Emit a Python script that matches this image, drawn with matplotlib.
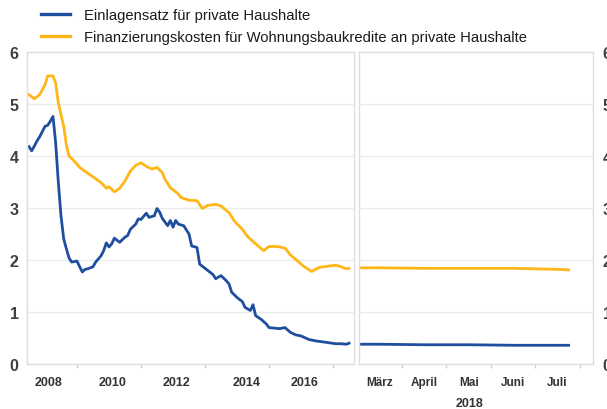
import matplotlib
matplotlib.use("Agg")
import matplotlib.pyplot as plt
from matplotlib.lines import Line2D

# ---------------- data ----------------
blue_label = "Einlagensatz für private Haushalte"
orange_label = "Finanzierungskosten für Wohnungsbaukredite an private Haushalte"

orange_months = ["2008-01", "2008-03", "2008-05", "2008-07", "2008-08", "2008-10", "2008-11", "2008-12",
                 "2009-02", "2009-03", "2009-04", "2009-06", "2009-08", "2009-11",
                 "2010-01", "2010-04", "2010-06", "2010-07", "2010-09", "2010-11",
                 "2011-01", "2011-03", "2011-05", "2011-07", "2011-09", "2011-11",
                 "2012-01", "2012-03", "2012-04", "2012-06", "2012-09", "2012-10",
                 "2013-01", "2013-04", "2013-06", "2013-08", "2013-11",
                 "2014-01", "2014-04", "2014-06", "2014-09", "2014-11",
                 "2015-02", "2015-05", "2015-07", "2015-10",
                 "2016-01", "2016-03", "2016-06", "2016-08", "2016-11",
                 "2017-02", "2017-05", "2017-08", "2017-10", "2017-12", "2018-01"]
orange_values = [5.18, 5.10, 5.18, 5.37, 5.54, 5.54, 5.40, 5.02,
                 4.57, 4.22, 4.00, 3.90, 3.78, 3.67,
                 3.60, 3.49, 3.38, 3.41, 3.31, 3.38,
                 3.52, 3.71, 3.82, 3.87, 3.80, 3.75,
                 3.78, 3.68, 3.55, 3.39, 3.27, 3.20,
                 3.15, 3.14, 2.99, 3.05, 3.07,
                 3.04, 2.91, 2.75, 2.59, 2.45,
                 2.31, 2.18, 2.26, 2.26,
                 2.23, 2.10, 1.97, 1.88, 1.78,
                 1.86, 1.88, 1.90, 1.87, 1.83, 1.84]

blue_months = ["2008-01", "2008-02", "2008-03", "2008-04", "2008-05", "2008-07", "2008-08", "2008-09",
               "2008-10", "2008-11", "2008-12",
               "2009-01", "2009-02", "2009-03", "2009-04", "2009-05", "2009-07", "2009-08", "2009-09",
               "2009-10", "2009-11",
               "2010-01", "2010-02", "2010-04", "2010-05", "2010-06", "2010-07", "2010-08", "2010-09",
               "2010-11",
               "2011-01", "2011-02", "2011-03", "2011-05", "2011-06", "2011-07", "2011-09", "2011-10",
               "2011-12",
               "2012-01", "2012-02", "2012-03", "2012-05", "2012-06", "2012-07", "2012-08", "2012-09",
               "2012-11",
               "2013-01", "2013-02", "2013-04", "2013-05", "2013-07", "2013-09", "2013-10", "2013-11",
               "2014-01", "2014-03", "2014-04", "2014-05", "2014-07", "2014-09", "2014-10", "2014-12",
               "2015-01", "2015-02", "2015-04", "2015-06", "2015-07", "2015-09", "2015-11",
               "2016-01", "2016-03", "2016-05", "2016-07", "2016-10",
               "2017-01", "2017-04", "2017-08", "2017-10", "2017-12", "2018-01"]
blue_values = [4.18, 4.10, 4.19, 4.29, 4.37, 4.57, 4.59, 4.67,
               4.76, 4.25, 3.49,
               2.85, 2.41, 2.22, 2.04, 1.96, 1.98, 1.87, 1.77,
               1.82, 1.83,
               1.87, 1.96, 2.08, 2.18, 2.33, 2.25, 2.31, 2.42,
               2.34,
               2.44, 2.47, 2.59, 2.69, 2.79, 2.78, 2.90, 2.82,
               2.85,
               2.99, 2.92, 2.80, 2.66, 2.76, 2.63, 2.76, 2.69,
               2.66,
               2.50, 2.27, 2.24, 1.92, 1.84, 1.76, 1.72, 1.64,
               1.70, 1.60, 1.54, 1.38, 1.28, 1.20, 1.09, 1.03,
               1.14, 0.93, 0.86, 0.77, 0.70, 0.69, 0.68,
               0.70, 0.61, 0.56, 0.54, 0.47,
               0.44, 0.42, 0.39, 0.39, 0.38, 0.40]

# right panel (2018, months as numbers)
recent_month = [2.55, 3.0, 4.0, 5.0, 6.0, 7.0, 7.25]
recent_orange = [1.85, 1.85, 1.84, 1.84, 1.84, 1.82, 1.81]
recent_blue = [0.38, 0.38, 0.37, 0.37, 0.36, 0.36, 0.36]

year_labels = ["2008", "2010", "2012", "2014", "2016"]
month_labels = ["März", "April", "Mai", "Juni", "Juli"]
month_ticks = [3, 4, 5, 6, 7]
y_ticks = [0, 1, 2, 3, 4, 5, 6]


def to_year(m):
    y, mo = m.split("-")
    return int(y) + (int(mo) - 1) / 12.0


orange_x = [to_year(m) for m in orange_months]
blue_x = [to_year(m) for m in blue_months]

# layout: where the year labels sit (fraction of a year after Jan 1)
label_offsets = [0.6, 0.6, 0.6, 0.8, 0.6]
label_pos = [int(l) + o for l, o in zip(year_labels, label_offsets)]

# ---------------- style ----------------
BLUE = "#1f4e9f"
ORANGE = "#ffb619"
GRID = "#ececec"
SPINE = "#dedede"
TXT = "#404040"
FONT = "Liberation Sans"
plt.rcParams["font.family"] = [FONT, "DejaVu Sans"]

W, H = 607, 410
fig = plt.figure(figsize=(W / 100, H / 100), dpi=100)

def rect(x0, x1, y0, y1):
    return [x0 / W, 1 - y1 / H, (x1 - x0) / W, (y1 - y0) / H]

ax1 = fig.add_axes(rect(27, 354, 53, 365))
ax2 = fig.add_axes(rect(359, 593, 53, 365))

for ax in (ax1, ax2):
    ax.set_ylim(0, 6)
    ax.set_yticks(y_ticks)
    ax.grid(axis="y", color=GRID, lw=1.0)
    ax.set_axisbelow(True)
    for s in ax.spines.values():
        s.set_color(SPINE)
        s.set_linewidth(1.0)

ax1.plot(orange_x, orange_values, color=ORANGE, lw=2.0, solid_joinstyle="round")
ax1.plot(blue_x, blue_values, color=BLUE, lw=2.0, solid_joinstyle="round")
ax1.set_xlim(2008 - 2 / 32, 2008 + 325 / 32)
ax1.set_xticks(label_pos)
ax1.set_xticklabels(year_labels, fontsize=9, fontweight="bold", color="#333333")
ax1.set_xticks([y + 0.5 for y in range(2009, 2018, 2)], minor=True)
ax1.tick_params(axis="x", which="major", length=0, pad=9)
ax1.tick_params(axis="x", which="minor", length=3, color="#d0d0d0", width=1)
ax1.tick_params(axis="y", length=0, pad=6, labelsize=11.5, labelcolor=TXT)
for t in ax1.get_yticklabels():
    t.set_fontweight("bold")

ax2.plot(recent_month, recent_orange, color=ORANGE, lw=2.0)
ax2.plot(recent_month, recent_blue, color=BLUE, lw=2.0)
ax2.set_xlim(2.53, 7.8)
ax2.set_xticks(month_ticks)
ax2.set_xticklabels(month_labels, fontsize=8.5, fontweight="bold", color="#333333")
ax2.set_xticks([3.5, 4.5, 5.5, 6.5, 7.5], minor=True)
ax2.tick_params(axis="x", which="major", length=0, pad=9)
ax2.tick_params(axis="x", which="minor", length=3, color="#d0d0d0", width=1)
ax2.yaxis.tick_right()
ax2.tick_params(axis="y", length=0, pad=7, labelsize=11.5, labelcolor=TXT)
for t in ax2.get_yticklabels():
    t.set_fontweight("bold")

fig.text(469 / W, 1 - 404 / H, "2018", ha="center", va="center",
         fontsize=9, fontweight="bold", color="#333333")

# legend
handles = [Line2D([], [], color=BLUE, lw=2.4), Line2D([], [], color=ORANGE, lw=2.4)]
fig.legend(handles, [blue_label, orange_label], loc="upper left",
           bbox_to_anchor=(35 / W, 1 - 3 / H), frameon=False, fontsize=10.6,
           handlelength=2.0, handletextpad=0.9, labelspacing=0.55, borderaxespad=0,
           labelcolor="#1a1a1a")

fig.savefig("out.png", dpi=100)
